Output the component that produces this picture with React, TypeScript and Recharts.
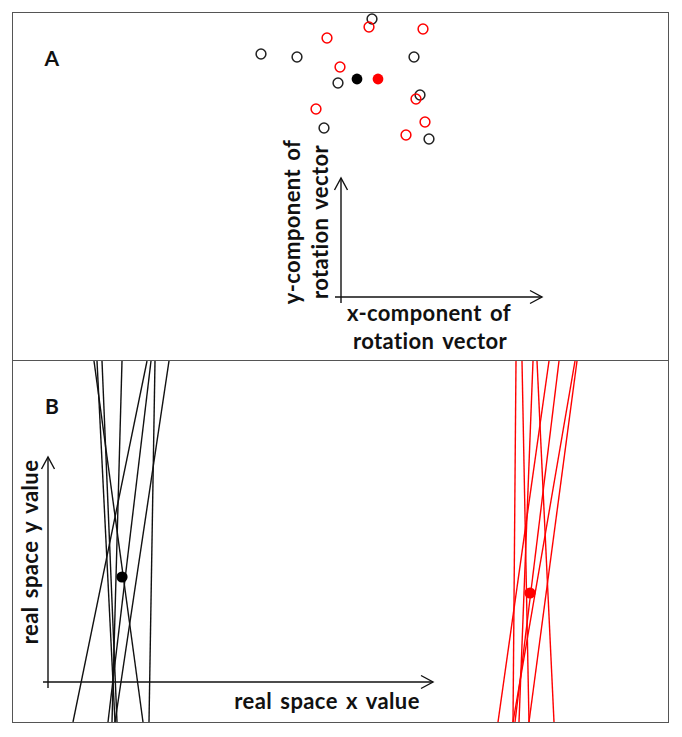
import React from "react";
import { ScatterChart, Scatter, XAxis, YAxis, ReferenceLine } from "recharts";

// panel sizes (data units = px inside each panel)
const panelWidth = 655;
const panelAHeight = 348;
const panelBHeight = 361;

// A: rotation vectors (x-component, y-component)
const blackVectors = [
  { x: 359, y: 342 },
  { x: 248, y: 307 },
  { x: 284, y: 304 },
  { x: 401, y: 304 },
  { x: 325, y: 278 },
  { x: 407, y: 266 },
  { x: 311, y: 233 },
  { x: 416, y: 222 }
];
const redVectors = [
  { x: 356, y: 334 },
  { x: 410, y: 332 },
  { x: 314, y: 323 },
  { x: 327, y: 294 },
  { x: 403, y: 262 },
  { x: 303, y: 252 },
  { x: 412, y: 239 },
  { x: 393, y: 226 }
];
const blackMeanVector = [{ x: 344, y: 282 }];
const redMeanVector = [{ x: 365, y: 282 }];

// B: real space lines, x where each one crosses the top and bottom of the panel
const blackLineTop = [81, 84, 89, 109, 134, 138, 142, 156];
const blackLineBottom = [130, 102, 104, 99, 60, 95, 136, 102];
const redLineTop = [503, 509, 520, 524, 536, 546, 562, 564];
const redLineBottom = [500, 516, 506, 541, 485, 502, 500, 516];
const blackMeanPoint = [{ x: 109, y: 145 }];
const redMeanPoint = [{ x: 517, y: 129 }];

// axis arrows [x1, y1, x2, y2]
const arrowsA = [
  [328, 58, 328, 183],
  [322, 64, 529, 64]
];
const arrowsB = [
  [35, 34, 35, 265],
  [30, 40, 420, 40]
];

const font = "Lato, 'Open Sans', sans-serif";

const openCircle = (color: string) => (p: any) => (
  <circle cx={p.cx} cy={p.cy} r={4.9} fill="none" stroke={color} strokeWidth={1.5} />
);
const dot = (color: string, r: number) => (p: any) => (
  <circle cx={p.cx} cy={p.cy} r={r} fill={color} />
);
const noShape = () => <g />;

const Arrow = (p: any) => {
  const { x1, y1, x2, y2 } = p;
  const dx = x2 - x1;
  const dy = y2 - y1;
  const len = Math.sqrt(dx * dx + dy * dy) || 1;
  const ux = dx / len;
  const uy = dy / len;
  const L = 12;
  const H = 6.5;
  const bx = x2 - ux * L;
  const by = y2 - uy * L;
  return (
    <g>
      <line x1={x1} y1={y1} x2={x2} y2={y2} stroke="#111" strokeWidth={1.4} />
      <polyline
        points={`${bx - uy * H},${by + ux * H} ${x2},${y2} ${bx + uy * H},${by - ux * H}`}
        fill="none"
        stroke="#111"
        strokeWidth={1.4}
      />
    </g>
  );
};

function Label({ text, x, y, rotate, size = 22 }: { text: string; x: number; y: number; rotate?: boolean; size?: number }) {
  return (
    <div
      style={{
        position: "absolute",
        left: x,
        top: y,
        transform: `translate(-50%, -50%)${rotate ? " rotate(-90deg)" : ""}`,
        fontFamily: font,
        fontWeight: 700,
        fontSize: size,
        lineHeight: 1,
        letterSpacing: 0.4,
        wordSpacing: 2.5,
        whiteSpace: "nowrap",
        color: "#111"
      }}
    >
      {text}
    </div>
  );
}

function segments(top: number[], bottom: number[]) {
  return top.map((t, i) => [
    { x: t, y: panelBHeight },
    { x: bottom[i], y: 0 }
  ]);
}

export default function App() {
  const blackLines = segments(blackLineTop, blackLineBottom);
  const redLines = segments(redLineTop, redLineBottom);
  const margin = { top: 0, right: 0, bottom: 0, left: 0 };

  return (
    <div style={{ position: "absolute", left: 0, top: 0, width: 682, height: 737, background: "#fff" }}>
      <div style={{ position: "absolute", left: 12, top: 12, width: 655, height: 709, border: "1.5px solid #555" }} />
      <div style={{ position: "absolute", left: 12, top: 360, width: 657, height: 0, borderTop: "1.5px solid #555" }} />

      <div style={{ position: "absolute", left: 13, top: 13 }}>
        <ScatterChart width={panelWidth} height={panelAHeight} margin={margin}>
          <XAxis type="number" dataKey="x" domain={[0, panelWidth]} hide allowDataOverflow />
          <YAxis type="number" dataKey="y" domain={[0, panelAHeight]} hide allowDataOverflow />
          {arrowsA.map((a, i) => (
            <ReferenceLine key={i} segment={[{ x: a[0], y: a[1] }, { x: a[2], y: a[3] }]} shape={Arrow} ifOverflow="visible" />
          ))}
          <Scatter data={blackVectors} shape={openCircle("#222")} isAnimationActive={false} />
          <Scatter data={redVectors} shape={openCircle("#f00")} isAnimationActive={false} />
          <Scatter data={blackMeanVector} shape={dot("#000", 5.4)} isAnimationActive={false} />
          <Scatter data={redMeanVector} shape={dot("#f00", 5.4)} isAnimationActive={false} />
        </ScatterChart>
      </div>

      <div style={{ position: "absolute", left: 13, top: 361 }}>
        <ScatterChart width={panelWidth} height={panelBHeight} margin={margin}>
          <XAxis type="number" dataKey="x" domain={[0, panelWidth]} hide allowDataOverflow />
          <YAxis type="number" dataKey="y" domain={[0, panelBHeight]} hide allowDataOverflow />
          {arrowsB.map((a, i) => (
            <ReferenceLine key={i} segment={[{ x: a[0], y: a[1] }, { x: a[2], y: a[3] }]} shape={Arrow} ifOverflow="visible" />
          ))}
          {blackLines.map((d, i) => (
            <Scatter key={"b" + i} data={d} line={{ stroke: "#111", strokeWidth: 1.4 }} shape={noShape} isAnimationActive={false} />
          ))}
          {redLines.map((d, i) => (
            <Scatter key={"r" + i} data={d} line={{ stroke: "#f00", strokeWidth: 1.4 }} shape={noShape} isAnimationActive={false} />
          ))}
          <Scatter data={blackMeanPoint} shape={dot("#000", 5.6)} isAnimationActive={false} />
          <Scatter data={redMeanPoint} shape={dot("#f00", 5.6)} isAnimationActive={false} />
        </ScatterChart>
      </div>

      <Label text="A" x={52} y={57} size={21} />
      <Label text="B" x={52} y={405} size={21} />
      <Label text="x-component of" x={429} y={313} />
      <Label text="rotation vector" x={430} y={341} />
      <Label text="y-component of" x={292} y={222} rotate />
      <Label text="rotation vector" x={320} y={222} rotate />
      <Label text="real space x value" x={327} y={701} />
      <Label text="real space y value" x={30} y={552} rotate />
    </div>
  );
}
